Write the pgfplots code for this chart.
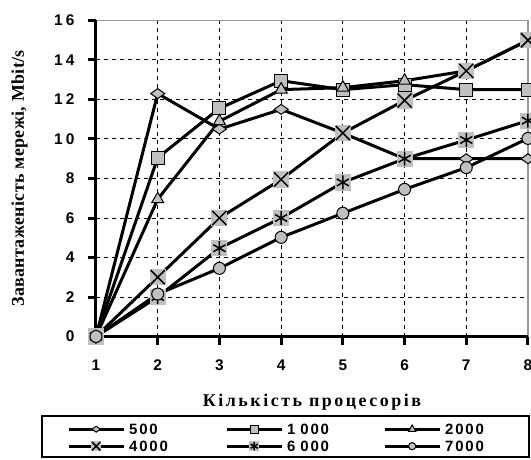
\documentclass[border=0pt]{standalone}
\usepackage{fontspec}
\setmainfont{Liberation Serif}
\newfontfamily\serifx[LetterSpace=14]{Liberation Serif}
\newfontfamily\serify[LetterSpace=2]{Liberation Serif}
\newfontfamily\sansls[LetterSpace=20]{Liberation Sans}
\newfontfamily\sanslg[LetterSpace=12]{Liberation Sans}
\usepackage{pgfplots}
\pgfplotsset{compat=1.18}
\definecolor{mgray}{RGB}{192,192,192}

\pgfdeclareplotmark{wdiamond}{%
  \pgfpathmoveto{\pgfpoint{1.4\pgfplotmarksize}{0pt}}%
  \pgfpathlineto{\pgfpoint{0pt}{\pgfplotmarksize}}%
  \pgfpathlineto{\pgfpoint{-1.4\pgfplotmarksize}{0pt}}%
  \pgfpathlineto{\pgfpoint{0pt}{-\pgfplotmarksize}}%
  \pgfpathclose
  \pgfusepathqfillstroke}
\pgfdeclareplotmark{xsq}{%
  \pgfpathrectangle{\pgfpoint{-1.15\pgfplotmarksize}{-1.15\pgfplotmarksize}}{\pgfpoint{2.3\pgfplotmarksize}{2.3\pgfplotmarksize}}%
  \pgfsetfillcolor{mgray}\pgfusepathqfill
  \pgfpathmoveto{\pgfpoint{-\pgfplotmarksize}{-\pgfplotmarksize}}%
  \pgfpathlineto{\pgfpoint{\pgfplotmarksize}{\pgfplotmarksize}}%
  \pgfpathmoveto{\pgfpoint{-\pgfplotmarksize}{\pgfplotmarksize}}%
  \pgfpathlineto{\pgfpoint{\pgfplotmarksize}{-\pgfplotmarksize}}%
  \pgfusepathqstroke}
\pgfdeclareplotmark{asq}{%
  \pgfpathrectangle{\pgfpoint{-1.15\pgfplotmarksize}{-1.15\pgfplotmarksize}}{\pgfpoint{2.3\pgfplotmarksize}{2.3\pgfplotmarksize}}%
  \pgfsetfillcolor{mgray}\pgfusepathqfill
  \pgfpathmoveto{\pgfpoint{0pt}{-\pgfplotmarksize}}%
  \pgfpathlineto{\pgfpoint{0pt}{\pgfplotmarksize}}%
  \pgfpathmoveto{\pgfpoint{-0.866\pgfplotmarksize}{-0.5\pgfplotmarksize}}%
  \pgfpathlineto{\pgfpoint{0.866\pgfplotmarksize}{0.5\pgfplotmarksize}}%
  \pgfpathmoveto{\pgfpoint{-0.866\pgfplotmarksize}{0.5\pgfplotmarksize}}%
  \pgfpathlineto{\pgfpoint{0.866\pgfplotmarksize}{-0.5\pgfplotmarksize}}%
  \pgfusepathqstroke}

\begin{document}
\begin{tikzpicture}
\begin{axis}[
  scale only axis, width=432bp, height=316bp,
  xmin=1, xmax=8, ymin=0, ymax=16,
  xtick={1,...,8}, ytick={0,2,...,16},
  grid=major,
  major grid style={black, line width=1bp, dash pattern=on 4bp off 4bp},
  axis line style={draw=gray!80, line width=1.2bp},
  tick align=outside, tick pos=left,
  major tick length=8bp,
  tick style={black, line width=3bp},
  clip=false,
  /pgf/number format/assume math mode=true,
  ticklabel style={font=\sansls\bfseries\fontsize{15.5}{15.5}\selectfont},
  yticklabel style={xshift=-10bp},
  xticklabel style={yshift=-12bp},
  xlabel={Кількість процесорів},
  ylabel={Завантаженість мережі, Mbit/s},
  xlabel style={font=\serifx\bfseries\fontsize{18}{18}\selectfont, at={(rel axis cs:0.5,0)}, anchor=north, inner sep=0pt, yshift=-57bp},
  ylabel style={font=\serify\bfseries\fontsize{18}{18}\selectfont, at={([xshift=-68bp]rel axis cs:0,0.5)}, anchor=south, inner sep=0pt},
  legend columns=3,
  legend image code/.code={%
    \draw[#1, /tikz/every mark/.append style={scale=0.6}, mark repeat=2, mark phase=2]
      plot coordinates {(0bp,0bp) (27.5bp,0bp) (55bp,0bp)};},
  legend style={draw=none, fill=none, at={(rel axis cs:0,0)}, anchor=north west,
    xshift=-29bp, yshift=-84bp, inner sep=0pt, row sep=0pt, column sep=0pt,
    nodes={inner xsep=4bp, inner ysep=3bp, text width=92bp, text height=11bp, text depth=0bp, anchor=west,
      font=\sanslg\bfseries\fontsize{15}{15}\selectfont}},
]
\draw[black, line width=3bp] (axis cs:1,16) -- (axis cs:1,0) -- (axis cs:8,0);
\addplot[black, line width=3bp, mark=wdiamond, mark size=5bp, mark options={fill=mgray, draw=black, line width=1bp}] coordinates {
 (1,0) (2,12.3) (3,10.5) (4,11.5) (5,10.3) (6,9) (7,9) (8,9)};
\addlegendentry{500}
\addplot[black, line width=3bp, mark=square*, mark size=6.5bp, mark options={fill=mgray, draw=black, line width=1bp}] coordinates {
 (1,0) (2,9.05) (3,11.55) (4,12.95) (5,12.5) (6,12.75) (7,12.5) (8,12.5)};
\addlegendentry{1 000}
\addplot[black, line width=3bp, mark=triangle*, mark size=7bp, mark options={fill=mgray, draw=black, line width=1bp}] coordinates {
 (1,0) (2,6.95) (3,10.9) (4,12.5) (5,12.6) (6,12.95) (7,13.45) (8,15)};
\addlegendentry{2000}
\addplot[black, line width=3bp, mark=xsq, mark size=7bp, mark options={draw=black, line width=1.5bp}] coordinates {
 (1,0) (2,3) (3,6) (4,7.95) (5,10.3) (6,11.95) (7,13.45) (8,15)};
\addlegendentry{4000}
\addplot[black, line width=3bp, mark=asq, mark size=7bp, mark options={draw=black, line width=1.5bp}] coordinates {
 (1,0) (2,2) (3,4.47) (4,6) (5,7.8) (6,9) (7,9.95) (8,10.93)};
\addlegendentry{6 000}
\addplot[black, line width=3bp, mark=*, mark size=6bp, mark options={fill=mgray, draw=black, line width=1bp}] coordinates {
 (1,0) (2,2.15) (3,3.45) (4,5.02) (5,6.24) (6,7.45) (7,8.55) (8,10.03)};
\addlegendentry{7000}
\end{axis}
\draw[black, line width=1.2bp] (-54bp,-79.5bp) rectangle (433bp,-120.5bp);
\pgfresetboundingbox
\path[use as bounding box] (-96bp,-123.5bp) rectangle (435bp,336.5bp);
\end{tikzpicture}
\end{document}
